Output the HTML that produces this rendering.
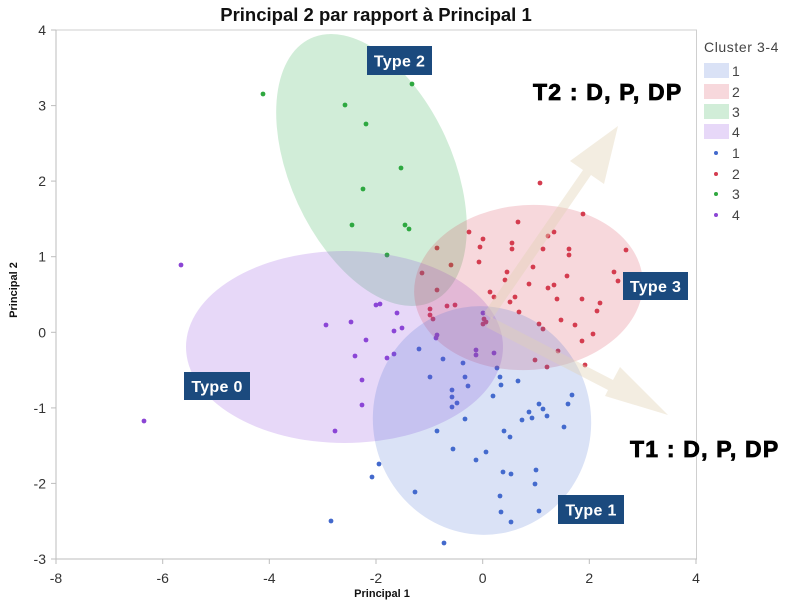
<!DOCTYPE html>
<html><head><meta charset="utf-8"><style>
html,body{margin:0;padding:0;background:#fff;}
svg{display:block;}
text{font-family:"Liberation Sans",Arial,sans-serif;}
</style></head><body>
<svg width="794" height="606" viewBox="0 0 794 606" xmlns="http://www.w3.org/2000/svg">
<rect width="794" height="606" fill="#fff"/>
<!-- title -->
<text x="376" y="21" font-size="18.5" font-weight="bold" text-anchor="middle" fill="#111">Principal 2 par rapport à Principal 1</text>
<!-- frame -->
<rect x="56" y="30" width="640.5" height="529" fill="none" stroke="#cfcfcf" stroke-width="1"/>
<line x1="56" y1="30" x2="56" y2="559" stroke="#bdbdbd"/>
<line x1="56" y1="559" x2="697" y2="559" stroke="#bdbdbd"/>
<!-- ticks -->
<g stroke="#bdbdbd">
<line x1="51" y1="30" x2="56" y2="30"/><line x1="51" y1="105.6" x2="56" y2="105.6"/>
<line x1="51" y1="181.1" x2="56" y2="181.1"/><line x1="51" y1="256.7" x2="56" y2="256.7"/>
<line x1="51" y1="332.3" x2="56" y2="332.3"/><line x1="51" y1="407.9" x2="56" y2="407.9"/>
<line x1="51" y1="483.4" x2="56" y2="483.4"/><line x1="51" y1="559" x2="56" y2="559"/>
<line x1="56" y1="559" x2="56" y2="564"/><line x1="162.7" y1="559" x2="162.7" y2="564"/>
<line x1="269.3" y1="559" x2="269.3" y2="564"/><line x1="376" y1="559" x2="376" y2="564"/>
<line x1="482.7" y1="559" x2="482.7" y2="564"/><line x1="589.3" y1="559" x2="589.3" y2="564"/>
<line x1="696" y1="559" x2="696" y2="564"/>
</g>
<g font-size="14" fill="#333" text-anchor="end">
<text x="46" y="35">4</text><text x="46" y="110.6">3</text><text x="46" y="186.1">2</text>
<text x="46" y="261.7">1</text><text x="46" y="337.3">0</text><text x="46" y="412.9">-1</text>
<text x="46" y="488.4">-2</text><text x="46" y="564">-3</text>
</g>
<g font-size="14" fill="#333" text-anchor="middle">
<text x="56" y="583">-8</text><text x="162.7" y="583">-6</text><text x="269.3" y="583">-4</text>
<text x="376" y="583">-2</text><text x="482.7" y="583">0</text><text x="589.3" y="583">2</text>
<text x="696" y="583">4</text>
</g>
<text x="382" y="597" font-size="11" font-weight="bold" text-anchor="middle" fill="#111">Principal 1</text>
<text transform="translate(17,290) rotate(-90)" font-size="11" font-weight="bold" text-anchor="middle" fill="#111">Principal 2</text>

<!-- points -->
<g fill="#2fa83f">
<circle cx="263" cy="94" r="2.4"/><circle cx="412" cy="84" r="2.4"/><circle cx="345" cy="105" r="2.4"/>
<circle cx="366" cy="124" r="2.4"/><circle cx="401" cy="168" r="2.4"/><circle cx="363" cy="189" r="2.4"/>
<circle cx="352" cy="225" r="2.4"/><circle cx="405" cy="225" r="2.4"/><circle cx="409" cy="229" r="2.4"/>
<circle cx="387" cy="255" r="2.4"/>
</g>
<g fill="#d43c4f">
<circle cx="540" cy="183" r="2.4"/><circle cx="583" cy="214" r="2.4"/><circle cx="518" cy="222" r="2.4"/>
<circle cx="469" cy="232" r="2.4"/><circle cx="483" cy="239" r="2.4"/><circle cx="548" cy="236" r="2.4"/>
<circle cx="554" cy="232" r="2.4"/><circle cx="512" cy="243" r="2.4"/><circle cx="512" cy="249" r="2.4"/>
<circle cx="480" cy="247" r="2.4"/><circle cx="543" cy="249" r="2.4"/><circle cx="569" cy="249" r="2.4"/>
<circle cx="569" cy="255" r="2.4"/><circle cx="626" cy="250" r="2.4"/><circle cx="437" cy="248" r="2.4"/>
<circle cx="479" cy="262" r="2.4"/><circle cx="533" cy="267" r="2.4"/><circle cx="451" cy="265" r="2.4"/>
<circle cx="507" cy="272" r="2.4"/><circle cx="505" cy="280" r="2.4"/><circle cx="567" cy="276" r="2.4"/>
<circle cx="614" cy="272" r="2.4"/><circle cx="618" cy="281" r="2.4"/><circle cx="422" cy="273" r="2.4"/>
<circle cx="529" cy="284" r="2.4"/><circle cx="548" cy="288" r="2.4"/><circle cx="554" cy="285" r="2.4"/>
<circle cx="437" cy="290" r="2.4"/><circle cx="490" cy="292" r="2.4"/><circle cx="494" cy="297" r="2.4"/>
<circle cx="515" cy="297" r="2.4"/><circle cx="510" cy="302" r="2.4"/><circle cx="557" cy="299" r="2.4"/>
<circle cx="582" cy="299" r="2.4"/><circle cx="600" cy="303" r="2.4"/><circle cx="597" cy="311" r="2.4"/>
<circle cx="447" cy="306" r="2.4"/><circle cx="455" cy="305" r="2.4"/><circle cx="430" cy="309" r="2.4"/>
<circle cx="430" cy="315" r="2.4"/><circle cx="433" cy="319" r="2.4"/><circle cx="519" cy="312" r="2.4"/>
<circle cx="484" cy="319" r="2.4"/><circle cx="486" cy="322" r="2.4"/><circle cx="483" cy="324" r="2.4"/>
<circle cx="561" cy="320" r="2.4"/><circle cx="575" cy="325" r="2.4"/><circle cx="539" cy="324" r="2.4"/>
<circle cx="543" cy="329" r="2.4"/><circle cx="593" cy="334" r="2.4"/><circle cx="582" cy="341" r="2.4"/>
<circle cx="558" cy="351" r="2.4"/><circle cx="535" cy="360" r="2.4"/><circle cx="547" cy="367" r="2.4"/>
<circle cx="585" cy="365" r="2.4"/>
</g>
<g fill="#8b45d4">
<circle cx="181" cy="265" r="2.4"/><circle cx="144" cy="421" r="2.4"/><circle cx="376" cy="305" r="2.4"/>
<circle cx="380" cy="304" r="2.4"/><circle cx="397" cy="313" r="2.4"/><circle cx="326" cy="325" r="2.4"/>
<circle cx="351" cy="322" r="2.4"/><circle cx="394" cy="331" r="2.4"/><circle cx="402" cy="328" r="2.4"/>
<circle cx="366" cy="340" r="2.4"/><circle cx="355" cy="356" r="2.4"/><circle cx="387" cy="358" r="2.4"/>
<circle cx="394" cy="354" r="2.4"/><circle cx="362" cy="380" r="2.4"/><circle cx="362" cy="405" r="2.4"/>
<circle cx="335" cy="431" r="2.4"/><circle cx="437" cy="335" r="2.4"/><circle cx="436" cy="338" r="2.4"/>
<circle cx="476" cy="350" r="2.4"/><circle cx="476" cy="355" r="2.4"/><circle cx="494" cy="353" r="2.4"/>
<circle cx="483" cy="313" r="2.4"/>
</g>
<g fill="#4369cc">
<circle cx="419" cy="349" r="2.4"/><circle cx="443" cy="359" r="2.4"/><circle cx="463" cy="363" r="2.4"/>
<circle cx="430" cy="377" r="2.4"/><circle cx="465" cy="377" r="2.4"/><circle cx="468" cy="386" r="2.4"/>
<circle cx="452" cy="390" r="2.4"/><circle cx="452" cy="397" r="2.4"/><circle cx="457" cy="403" r="2.4"/>
<circle cx="452" cy="407" r="2.4"/><circle cx="497" cy="368" r="2.4"/><circle cx="500" cy="377" r="2.4"/>
<circle cx="501" cy="385" r="2.4"/><circle cx="518" cy="381" r="2.4"/><circle cx="493" cy="396" r="2.4"/>
<circle cx="465" cy="419" r="2.4"/><circle cx="437" cy="431" r="2.4"/><circle cx="504" cy="431" r="2.4"/>
<circle cx="510" cy="437" r="2.4"/><circle cx="522" cy="420" r="2.4"/><circle cx="529" cy="412" r="2.4"/>
<circle cx="532" cy="418" r="2.4"/><circle cx="539" cy="404" r="2.4"/><circle cx="543" cy="409" r="2.4"/>
<circle cx="547" cy="416" r="2.4"/><circle cx="568" cy="404" r="2.4"/><circle cx="572" cy="395" r="2.4"/>
<circle cx="564" cy="427" r="2.4"/><circle cx="453" cy="449" r="2.4"/><circle cx="486" cy="452" r="2.4"/>
<circle cx="476" cy="460" r="2.4"/><circle cx="379" cy="464" r="2.4"/><circle cx="372" cy="477" r="2.4"/>
<circle cx="415" cy="492" r="2.4"/><circle cx="503" cy="472" r="2.4"/><circle cx="511" cy="474" r="2.4"/>
<circle cx="536" cy="470" r="2.4"/><circle cx="535" cy="484" r="2.4"/><circle cx="500" cy="496" r="2.4"/>
<circle cx="501" cy="512" r="2.4"/><circle cx="511" cy="522" r="2.4"/><circle cx="539" cy="511" r="2.4"/>
<circle cx="331" cy="521" r="2.4"/><circle cx="444" cy="543" r="2.4"/>
</g>

<!-- ellipses -->
<ellipse cx="371.5" cy="170" rx="145" ry="81" transform="rotate(65.3 371.5 170)" fill="rgb(40,170,70)" fill-opacity="0.21"/>
<ellipse cx="344.5" cy="347" rx="158.5" ry="96" fill="rgb(140,70,220)" fill-opacity="0.21"/>
<ellipse cx="528.5" cy="287.5" rx="114.5" ry="82.5" transform="rotate(-4 528.5 287.5)" fill="rgb(215,60,80)" fill-opacity="0.2"/>
<ellipse cx="482" cy="420.5" rx="109" ry="114.5" transform="rotate(-10 482 420.5)" fill="rgb(70,110,210)" fill-opacity="0.2"/>

<!-- arrows -->
<polygon points="484,313 583,170 570,161 618,126 604,184 591,175 492,319" fill="rgb(225,210,180)" fill-opacity="0.4"/>
<polygon points="491,317 613,380 620,367 668,415 605,396 608,390 486,327" fill="rgb(225,210,180)" fill-opacity="0.4"/>

<!-- type labels -->
<g font-size="16" font-weight="bold" fill="#fff" text-anchor="middle" letter-spacing="0.3">
<rect x="367" y="46" width="65" height="29" fill="#1b4a7e"/><text x="399.5" y="66.5">Type 2</text>
<rect x="623" y="272" width="65" height="28" fill="#1b4a7e"/><text x="655.5" y="292">Type 3</text>
<rect x="184" y="372" width="66" height="28" fill="#1b4a7e"/><text x="217" y="392">Type 0</text>
<rect x="558" y="495" width="66" height="29" fill="#1b4a7e"/><text x="591" y="515.5">Type 1</text>
</g>
<g font-size="23" font-weight="bold" fill="#000" stroke="#000" stroke-width="0.8" letter-spacing="1.2">
<text x="533" y="100">T2 : D, P, DP</text>
<text x="630" y="457">T1 : D, P, DP</text>
</g>

<!-- legend -->
<text x="704" y="52" font-size="14" fill="#444" letter-spacing="0.6">Cluster 3-4</text>
<rect x="704" y="63" width="25" height="15" fill="rgb(70,110,210)" fill-opacity="0.2"/>
<rect x="704" y="84" width="25" height="15" fill="rgb(215,60,80)" fill-opacity="0.2"/>
<rect x="704" y="104" width="25" height="15" fill="rgb(40,170,70)" fill-opacity="0.21"/>
<rect x="704" y="124" width="25" height="15" fill="rgb(140,70,220)" fill-opacity="0.21"/>
<circle cx="716" cy="153" r="2" fill="#4369cc"/>
<circle cx="716" cy="174" r="2" fill="#d43c4f"/>
<circle cx="716" cy="194" r="2" fill="#2fa83f"/>
<circle cx="716" cy="215" r="2" fill="#8b45d4"/>
<g font-size="14" fill="#444">
<text x="732" y="76">1</text><text x="732" y="97">2</text><text x="732" y="117">3</text><text x="732" y="137">4</text>
<text x="732" y="158">1</text><text x="732" y="179">2</text><text x="732" y="199">3</text><text x="732" y="220">4</text>
</g>
</svg>
</body></html>
